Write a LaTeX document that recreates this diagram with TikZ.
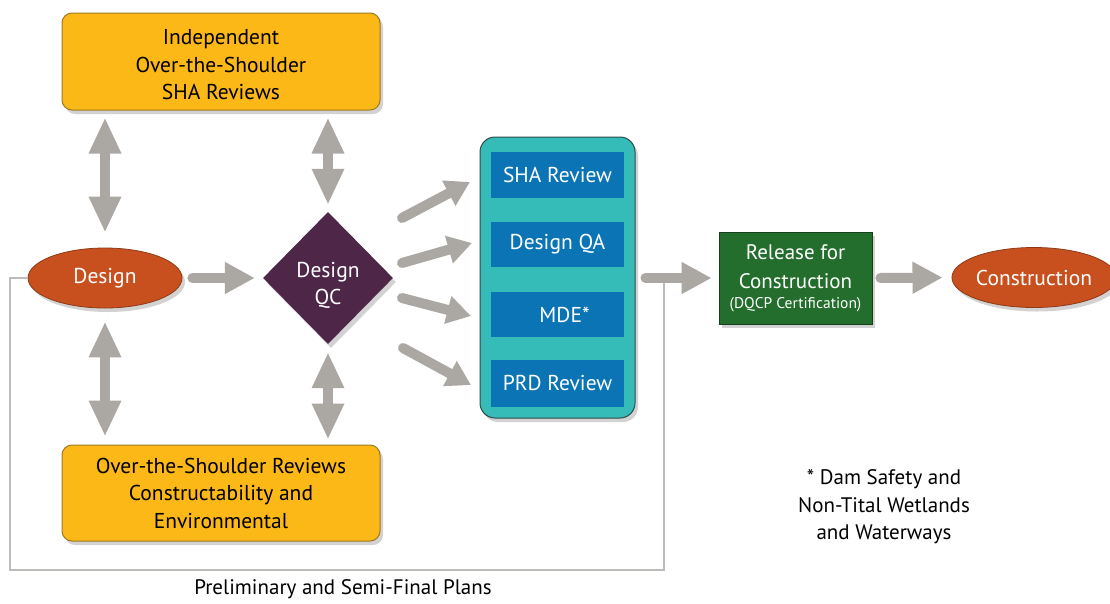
\documentclass[tikz,border=0pt]{standalone}
\usepackage{fontspec}
\setmainfont{PT Sans}
\usetikzlibrary{arrows.meta,shapes.geometric,shadows}
\definecolor{boxorange}{HTML}{FBB817}
\definecolor{boxorangeD}{HTML}{9C7A20}
\definecolor{ellred}{HTML}{C8501E}
\definecolor{ellredD}{HTML}{8E3A16}
\definecolor{qcpurple}{HTML}{4E2748}
\definecolor{tealbox}{HTML}{35BCB8}
\definecolor{tealD}{HTML}{2C4B4B}
\definecolor{innerblue}{HTML}{0A74B5}
\definecolor{relgreen}{HTML}{236E2C}
\definecolor{relgreenD}{HTML}{163F1B}
\definecolor{arrgray}{HTML}{ABA7A3}
\definecolor{fbgray}{HTML}{BEBBB8}
\tikzset{
  shade/.style={drop shadow={opacity=0.35,shadow xshift=3pt,shadow yshift=-4pt}},
  orangebox/.style={shade,draw=boxorangeD,line width=1pt,fill=boxorange,rounded corners=10pt,
     minimum width=318pt,minimum height=97pt,align=center,font=\fontsize{21.5pt}{27.5pt}\selectfont,text=black},
  redell/.style={shade,ellipse,draw=ellredD,line width=0.8pt,fill=ellred,minimum width=154pt,minimum height=60pt,
     inner sep=0pt,text=white,font=\fontsize{21.5pt}{24pt}\selectfont},
  qcdia/.style={shade,diamond,fill=qcpurple,minimum width=130pt,minimum height=132pt,inner sep=0pt,
     text=white,align=center,font=\fontsize{21.5pt}{27pt}\selectfont},
  tealcont/.style={shade,draw=tealD,line width=1pt,fill=tealbox,rounded corners=15pt,
     minimum width=155pt,minimum height=281pt},
  bluebox/.style={fill=innerblue,minimum width=133pt,minimum height=46pt,inner sep=0pt,
     text=white,font=\fontsize{21.5pt}{24pt}\selectfont},
  greenbox/.style={shade,draw=relgreenD,line width=0.8pt,fill=relgreen,minimum width=153pt,minimum height=92pt,
     align=center,text=white,inner sep=0pt,font=\fontsize{21pt}{29pt}\selectfont},
  bigarrow/.style={draw=arrgray,line width=10pt,line cap=round,-{Triangle[width=30pt,length=30pt]}},
  fanarrow/.style={draw=arrgray,line width=10pt,line cap=round,-{Triangle[width=27pt,length=24pt]}},
  dblarrow/.style={draw=arrgray,line width=10pt,{Triangle[width=30pt,length=36pt]}-{Triangle[width=30pt,length=36pt]}},
  fbline/.style={draw=fbgray,line width=2pt},
  plain/.style={text=black,align=center}
}
\begin{document}
\begin{tikzpicture}[x=1pt,y=-1pt]
\useasboundingbox[fill=white] (0,0) rectangle (1110,603);

\node[orangebox] (top) at (221,61.5) {\rule{0pt}{22pt}Independent\\Over-the-Shoulder\\SHA Reviews};
\node[orangebox,minimum height=96pt] (bot) at (221,493) {Over-the-Shoulder Reviews\\Constructability and\\Environmental};
\node[redell] (design) at (105,278) {Design};
\node[qcdia] (qc) at (328,278) {\rule{0pt}{30pt}Design\\QC};

\node[tealcont] (cont) at (557.5,277.5) {};
\node[bluebox] (sha) at (557.5,175) {SHA Review};
\node[bluebox,minimum height=45pt] (qa) at (557.5,244.5) {Design QA};
\node[bluebox,minimum height=45pt] (mde) at (557.5,314.5) {\hspace*{14pt}MDE*};
\node[bluebox,minimum height=47pt] (prd) at (557.5,383.5) {PRD Review};

\node[greenbox] (rel) at (795.5,278) {Release for\\Construction\\[-9pt]{\fontsize{15.5pt}{17pt}\selectfont (DQCP Certification)}};
\node[redell] (cons) at (1034,277.5) {Construction};

% feedback line
\coordinate (fbA) at (10,278);
\coordinate (fbB) at (10,570);
\coordinate (fbC) at (664,570);
\coordinate (fbD) at (664,280);
\draw[fbline] (design.west) -- (fbA) -- (fbB) -- (fbC) -- (fbD);

% arrows
\draw[bigarrow,shorten <=10pt,shorten >=8pt] (design) -- (qc);
\draw[bigarrow,shorten <=10pt,shorten >=7pt] (cont.east |- rel.west) -- (rel.west);
\draw[bigarrow,shorten <=8pt,shorten >=9pt] (rel.east) -- (cons.west);

\draw[dblarrow,shorten <=15pt,shorten >=7pt] (design.north) -- (design.north |- top.south);
\draw[dblarrow,shorten <=13pt,shorten >=8pt] (design.south) -- (design.south |- bot.north);
\draw[dblarrow,shorten <=7pt,shorten >=7pt] (qc.north) -- (qc.north |- top.south);
\draw[dblarrow,shorten <=8pt,shorten >=5pt] (qc.south) -- (qc.south |- bot.north);

\coordinate (f1s) at (402,218); \coordinate (f1e) at (470,182);
\coordinate (f2s) at (402,263); \coordinate (f2e) at (472,243);
\coordinate (f3s) at (402,298); \coordinate (f3e) at (471,316);
\coordinate (f4s) at (403,348); \coordinate (f4e) at (471,385);
\draw[fanarrow] (f1s) -- (f1e);
\draw[fanarrow] (f2s) -- (f2e);
\draw[fanarrow] (f3s) -- (f3e);
\draw[fanarrow] (f4s) -- (f4e);

\node[plain,font=\fontsize{21pt}{24pt}\selectfont] (fblabel) at (343,589) {Preliminary and Semi-Final Plans};
\node[plain,font=\fontsize{21pt}{27.5pt}\selectfont] (note) at (884,507) {* Dam Safety and\\Non-Tital Wetlands\\and Waterways};
\end{tikzpicture}
\end{document}
